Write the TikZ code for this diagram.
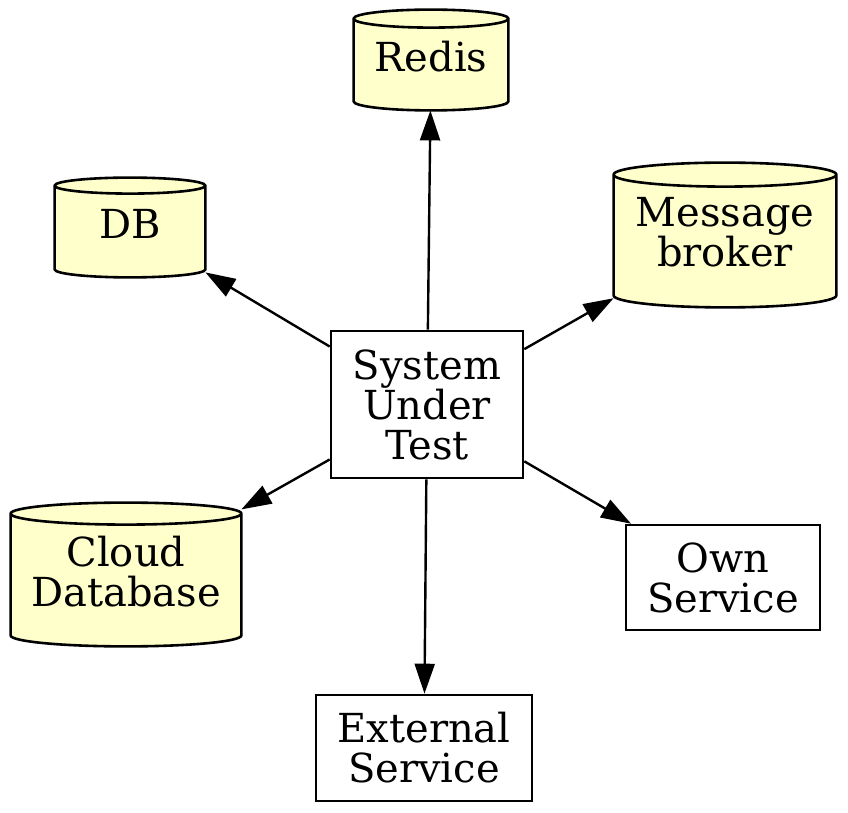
\documentclass[tikz,border=0pt]{standalone}
\usepackage{fontspec}
\setmainfont{DejaVu Serif}
\usetikzlibrary{calc,backgrounds,arrows.meta}
\definecolor{storefill}{HTML}{FFFFCC}
\begin{document}
\begin{tikzpicture}[x=0.5pt,y=-0.5pt,
	font=\fontsize{20}{20}\selectfont,
	every node/.style={align=center,inner sep=0pt},
	>={Triangle[length=15pt,width=10pt]},
	store/.style={rectangle,text depth=3.5pt},
	service/.style={rectangle,draw=black,line width=1.3pt}]

  \useasboundingbox (0,0) rectangle (848,813);

  \node [service, minimum width=96pt, minimum height=73.5pt] (sut) at (427,404.5) {System\\Under\\Test};

  \node [store, minimum width=77pt, minimum height=50pt] (redis) at (431,60) {Redis};
  \node [store, minimum width=75pt, minimum height=49.5pt] (db) at (130,227.5) {DB};
  \node [store, minimum width=111pt, minimum height=72pt] (broker) at (725,235) {Message\\broker};
  \node [store, minimum width=115pt, minimum height=71.5pt] (cloud) at (126,574.5) {Cloud\\Database};
  \node [service, minimum width=97pt, minimum height=52.5pt] (own) at (723,577.5) {Own\\Service};
  \node [service, minimum width=108pt, minimum height=53pt] (ext) at (424,748) {External\\Service};

  % cylinders behind the store labels
  \begin{scope}[on background layer]
  \foreach \s/\r in {redis/4.5pt,db/4pt,broker/6pt,cloud/5.5pt}{
	  \draw [fill=storefill,line width=1.3pt]
	    let \p1=(\s.north west), \p2=(\s.south east), \n1={(\x2-\x1)/2} in
	    (\x1,\y1-\r) -- (\x1,\y2+\r)
	    arc [start angle=180,end angle=360,x radius=\n1,y radius=\r]
	    -- (\x2,\y1-\r)
	    arc [start angle=0,end angle=180,x radius=\n1,y radius=\r]
	    -- cycle
	    (\x1,\y1-\r) arc [start angle=180,end angle=360,x radius=\n1,y radius=\r];
  }
  \end{scope}

  \foreach \t in {redis,db,broker,cloud,own,ext}{
	  \draw [->,line width=1.2pt] (sut) -- (\t);
  }

\end{tikzpicture}
\end{document}
